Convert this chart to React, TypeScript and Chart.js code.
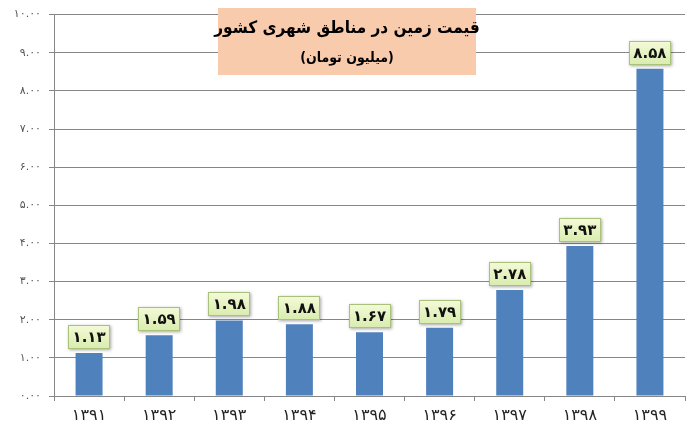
import React, { useEffect, useRef } from "react";
import { Chart, registerables } from "chart.js";

Chart.register(...registerables);

const years = ["۱۳۹۱", "۱۳۹۲", "۱۳۹۳", "۱۳۹۴", "۱۳۹۵", "۱۳۹۶", "۱۳۹۷", "۱۳۹۸", "۱۳۹۹"];
const prices = [1.13, 1.59, 1.98, 1.88, 1.67, 1.79, 2.78, 3.93, 8.58];
const titleLine1 = "قیمت زمین در مناطق شهری کشور";
const titleLine2 = "(میلیون تومان)";

const faDigits = "۰۱۲۳۴۵۶۷۸۹";
const toFa = (s: string) => s.replace(/[0-9]/g, (d) => faDigits[Number(d)]);

const FONT = "'DejaVu Sans', sans-serif";
const FONT_C = "'DejaVu Sans Condensed', 'DejaVu Sans', sans-serif";

const labelPlugin = {
  id: "valueLabels",
  afterDatasetsDraw(chart: any) {
    const ctx = chart.ctx;
    const meta = chart.getDatasetMeta(0);
    ctx.save();
    meta.data.forEach((bar: any, i: number) => {
      const text = toFa(prices[i].toFixed(2));
      const w = 42;
      const h = 24;
      const x = Math.round(bar.x - w / 2);
      const y = Math.round(bar.y - 4 - h);
      ctx.shadowColor = "rgba(0,0,0,0.35)";
      ctx.shadowBlur = 3;
      ctx.shadowOffsetX = 1;
      ctx.shadowOffsetY = 1;
      const g = ctx.createLinearGradient(0, y, 0, y + h);
      g.addColorStop(0, "#f4fad8");
      g.addColorStop(1, "#d9ecae");
      ctx.fillStyle = g;
      ctx.fillRect(x, y, w, h);
      ctx.shadowColor = "transparent";
      ctx.strokeStyle = "#a9c27a";
      ctx.lineWidth = 1;
      ctx.strokeRect(x + 0.5, y + 0.5, w - 1, h - 1);
      ctx.fillStyle = "#111";
      ctx.textAlign = "center";
      ctx.textBaseline = "middle";
      ctx.font = `bold 15px ${FONT}`;
      ctx.fillText(text, bar.x, y + h / 2 + 1);
    });
    ctx.restore();
  },
};

const titlePlugin = {
  id: "titleBox",
  afterDatasetsDraw(chart: any) {
    const ctx = chart.ctx;
    ctx.save();
    ctx.fillStyle = "#f8cbad";
    ctx.fillRect(218, 8, 258, 67);
    ctx.fillStyle = "#000";
    ctx.textAlign = "center";
    ctx.textBaseline = "middle";
    ctx.direction = "rtl";
    ctx.font = `bold 17px ${FONT_C}`;
    ctx.fillText(titleLine1, 347, 29);
    ctx.font = `bold 14px ${FONT_C}`;
    ctx.fillText(titleLine2, 347, 58);
    ctx.restore();
  },
};

export default function App() {
  const ref = useRef<HTMLCanvasElement>(null);
  useEffect(() => {
    const chart = new Chart(ref.current!, {
      type: "bar",
      data: {
        labels: years,
        datasets: [
          {
            data: prices,
            backgroundColor: "#4f81bd",
            barPercentage: 0.77,
            categoryPercentage: 0.5,
          },
        ],
      },
      options: {
        animation: false,
        responsive: false,
        devicePixelRatio: 1,
        layout: { padding: { top: 12, right: 11, left: 0, bottom: 0 } },
        plugins: { legend: { display: false }, tooltip: { enabled: false } },
        scales: {
          x: {
            grid: { drawOnChartArea: false, drawTicks: true, tickLength: 5, color: "#868686", offset: true },
            border: { color: "#868686" },
            ticks: { color: "#222", font: { family: FONT, size: 16 }, padding: 5 },
            afterFit: (s: any) => {
              s.height = 36;
            },
          },
          y: {
            min: 0,
            max: 10,
            ticks: {
              stepSize: 1,
              color: "#555",
              font: { family: FONT, size: 11 },
              padding: 8,
              callback: (v: any) => toFa(Number(v).toFixed(2)),
            },
            grid: { color: "#868686", tickLength: 5 },
            border: { color: "#868686" },
            afterFit: (s: any) => {
              s.width = 54;
            },
          },
        },
      },
      plugins: [labelPlugin, titlePlugin],
    });
    return () => chart.destroy();
  }, []);
  return (
    <div style={{ position: "fixed", left: 0, top: 0, width: 696, height: 432, background: "#fff" }}>
      <canvas ref={ref} width={696} height={432} />
    </div>
  );
}
